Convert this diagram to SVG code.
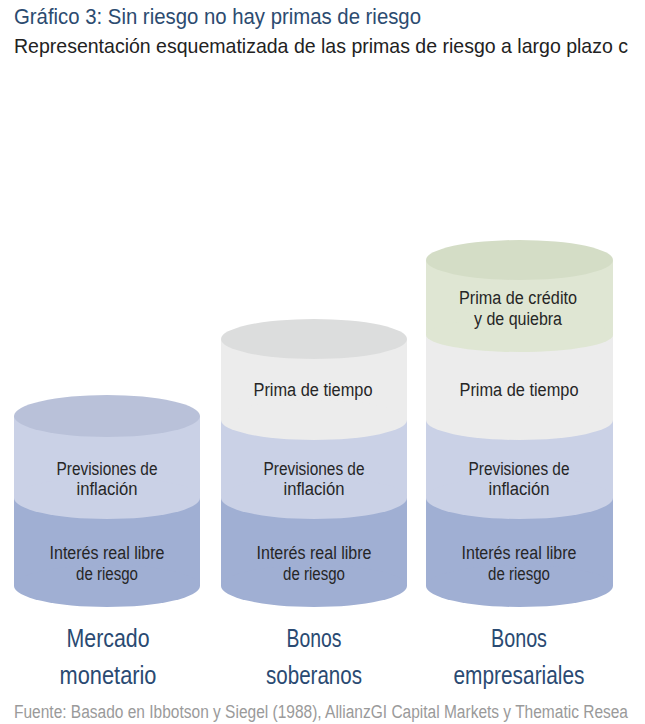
<svg xmlns="http://www.w3.org/2000/svg" width="645" height="724" viewBox="0 0 645 724">
  <style>
    .t { font-family: "Liberation Sans", Arial, sans-serif; }
    .title { font-size: 22px; fill: #2c4b70; }
    .sub { font-size: 21px; fill: #222222; }
    .foot { font-size: 18px; fill: #9a9a9a; }
    .lbl { font-size: 18px; fill: #262626; text-anchor: middle; }
    .cat { font-size: 25px; fill: #2a4a72; text-anchor: middle; }
    .dark { fill: #a0afd3; }
    .light { fill: #cad1e6; }
    .lightcap { fill: #b9c1d9; }
    .white { fill: #ececec; }
    .whitecap { fill: #dcdddd; }
    .green { fill: #dfe6d3; }
    .greencap { fill: #d4ddc6; }
  </style>
  <rect x="0" y="0" width="645" height="724" fill="#ffffff"/>

  <g id="header" class="t">
    <text class="title" x="14" y="24" textLength="407" lengthAdjust="spacingAndGlyphs">Gráfico 3: Sin riesgo no hay primas de riesgo</text>
    <text class="sub" x="14" y="53" textLength="614" lengthAdjust="spacingAndGlyphs">Representación esquematizada de las primas de riesgo a largo plazo c</text>
  </g>

  <g id="connectors"/>

  <!-- Cylinder 1: Mercado monetario -->
  <g id="cyl-mercado">
    <g id="cyl1-interes">
      <rect class="dark" x="14" y="498" width="186" height="88"/>
      <ellipse class="dark" cx="107" cy="586" rx="93" ry="21"/>
    </g>
    <g id="cyl1-inflacion">
      <rect class="light" x="14" y="416" width="186" height="82"/>
      <ellipse class="light" cx="107" cy="498" rx="93" ry="21"/>
      <ellipse class="lightcap" cx="107" cy="416" rx="93" ry="21"/>
    </g>
    <g class="t">
      <text class="lbl" x="107" y="475" textLength="101" lengthAdjust="spacingAndGlyphs">Previsiones de</text>
      <text class="lbl" x="107" y="495" textLength="61" lengthAdjust="spacingAndGlyphs">inflación</text>
      <text class="lbl" x="107" y="559" textLength="115" lengthAdjust="spacingAndGlyphs">Interés real libre</text>
      <text class="lbl" x="107" y="580" textLength="62" lengthAdjust="spacingAndGlyphs">de riesgo</text>
    </g>
  </g>

  <!-- Cylinder 2: Bonos soberanos -->
  <g id="cyl-soberanos">
    <g id="cyl2-interes">
      <rect class="dark" x="221" y="498" width="186" height="88"/>
      <ellipse class="dark" cx="314" cy="586" rx="93" ry="21"/>
    </g>
    <g id="cyl2-inflacion">
      <rect class="light" x="221" y="420" width="186" height="78"/>
      <ellipse class="light" cx="314" cy="498" rx="93" ry="21"/>
    </g>
    <g id="cyl2-tiempo">
      <rect class="white" x="221" y="339" width="186" height="81"/>
      <ellipse class="white" cx="314" cy="420" rx="93" ry="20"/>
      <ellipse class="whitecap" cx="314" cy="339" rx="93" ry="20"/>
    </g>
    <g class="t">
      <text class="lbl" x="313" y="396" textLength="119" lengthAdjust="spacingAndGlyphs">Prima de tiempo</text>
      <text class="lbl" x="314" y="475" textLength="101" lengthAdjust="spacingAndGlyphs">Previsiones de</text>
      <text class="lbl" x="314" y="495" textLength="61" lengthAdjust="spacingAndGlyphs">inflación</text>
      <text class="lbl" x="314" y="559" textLength="115" lengthAdjust="spacingAndGlyphs">Interés real libre</text>
      <text class="lbl" x="314" y="580" textLength="62" lengthAdjust="spacingAndGlyphs">de riesgo</text>
    </g>
  </g>

  <!-- Cylinder 3: Bonos empresariales -->
  <g id="cyl-empresariales">
    <g id="cyl3-interes">
      <rect class="dark" x="426" y="498" width="187" height="88"/>
      <ellipse class="dark" cx="519.5" cy="586" rx="93.5" ry="21"/>
    </g>
    <g id="cyl3-inflacion">
      <rect class="light" x="426" y="420" width="187" height="78"/>
      <ellipse class="light" cx="519.5" cy="498" rx="93.5" ry="21"/>
    </g>
    <g id="cyl3-tiempo">
      <rect class="white" x="426" y="335" width="187" height="85"/>
      <ellipse class="white" cx="519.5" cy="420" rx="93.5" ry="20"/>
    </g>
    <g id="cyl3-credito">
      <rect class="green" x="426" y="260" width="187" height="75"/>
      <ellipse class="green" cx="519.5" cy="335" rx="93.5" ry="17"/>
      <ellipse class="greencap" cx="519.5" cy="260" rx="93.5" ry="20"/>
    </g>
    <g class="t">
      <text class="lbl" x="518" y="304" textLength="118" lengthAdjust="spacingAndGlyphs">Prima de crédito</text>
      <text class="lbl" x="518" y="325" textLength="88" lengthAdjust="spacingAndGlyphs">y de quiebra</text>
      <text class="lbl" x="519" y="396" textLength="119" lengthAdjust="spacingAndGlyphs">Prima de tiempo</text>
      <text class="lbl" x="519" y="475" textLength="101" lengthAdjust="spacingAndGlyphs">Previsiones de</text>
      <text class="lbl" x="519" y="495" textLength="61" lengthAdjust="spacingAndGlyphs">inflación</text>
      <text class="lbl" x="519" y="559" textLength="115" lengthAdjust="spacingAndGlyphs">Interés real libre</text>
      <text class="lbl" x="519" y="580" textLength="62" lengthAdjust="spacingAndGlyphs">de riesgo</text>
    </g>
  </g>

  <g id="categories" class="t">
    <text class="cat" x="108" y="647" textLength="83" lengthAdjust="spacingAndGlyphs">Mercado</text>
    <text class="cat" x="108" y="684" textLength="97" lengthAdjust="spacingAndGlyphs">monetario</text>
    <text class="cat" x="314" y="647" textLength="55" lengthAdjust="spacingAndGlyphs">Bonos</text>
    <text class="cat" x="314" y="684" textLength="96" lengthAdjust="spacingAndGlyphs">soberanos</text>
    <text class="cat" x="519" y="647" textLength="56" lengthAdjust="spacingAndGlyphs">Bonos</text>
    <text class="cat" x="519" y="684" textLength="131" lengthAdjust="spacingAndGlyphs">empresariales</text>
  </g>

  <g id="footer" class="t">
    <text class="foot" x="14" y="718" textLength="614" lengthAdjust="spacingAndGlyphs">Fuente: Basado en Ibbotson y Siegel (1988), AllianzGI Capital Markets y Thematic Resea</text>
  </g>
</svg>
